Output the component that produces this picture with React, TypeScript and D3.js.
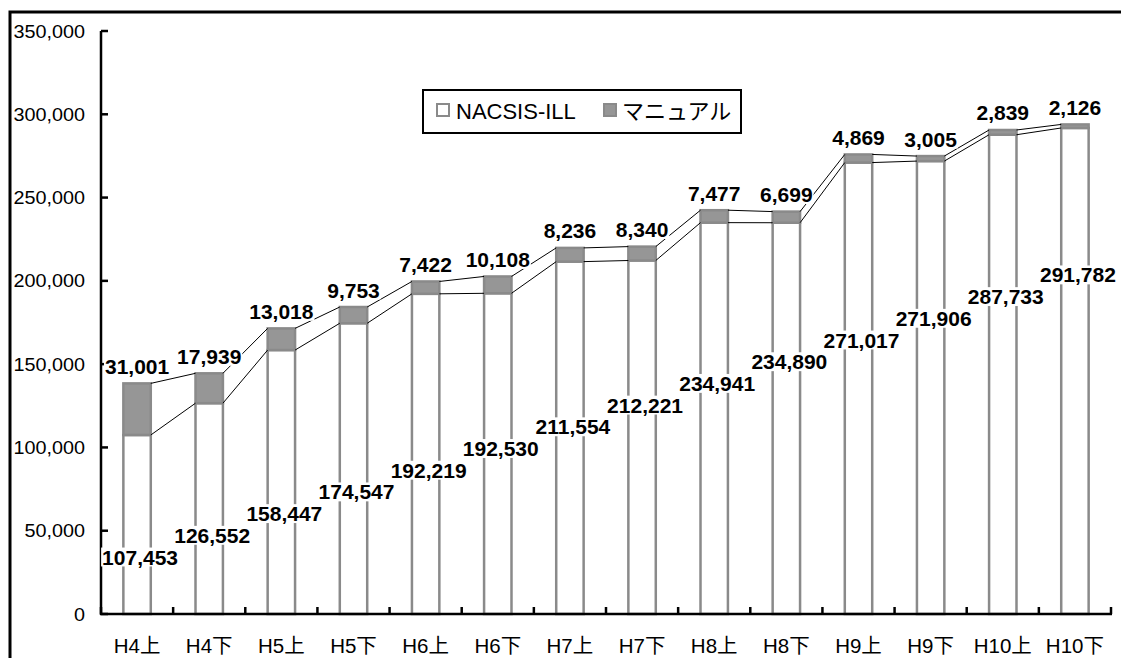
import React from "react";
import * as d3 from "d3";

const categories = ["H4上", "H4下", "H5上", "H5下", "H6上", "H6下", "H7上", "H7下", "H8上", "H8下", "H9上", "H9下", "H10上", "H10下"];
const nacsis = [107453, 126552, 158447, 174547, 192219, 192530, 211554, 212221, 234941, 234890, 271017, 271906, 287733, 291782];
const manual = [31001, 17939, 13018, 9753, 7422, 10108, 8236, 8340, 7477, 6699, 4869, 3005, 2839, 2126];
const yTicks = [0, 50000, 100000, 150000, 200000, 250000, 300000, 350000];
const seriesNames = ["NACSIS-ILL", "マニュアル"];

const W = 1121, H = 658;
const FONT = "'Liberation Sans', Arial, 'Noto Sans CJK JP', sans-serif";
const BAR_STROKE = "#8a8a8a";
const MANUAL_FILL = "#969696";

// layout constants for label placement (as in the original figure)
const nacsisLabelStartY = 557;
const nacsisLabelStep = 21.7;
const manualLabelGap = 17;

const fmt = d3.format(",");

function textWidth(s: string, fs: number) {
  let w = 0;
  for (const ch of s) w += ch === "," ? 0.278 : 0.556;
  return w * fs;
}

function Label({ x, cy, text }: { x: number; cy: number; text: string }) {
  const fs = 21;
  const w = textWidth(text, fs) + 2;
  const h = fs * 0.9;
  return (
    <g>
      <rect x={x - w / 2} y={cy - h / 2} width={w} height={h} fill="#fff" />
      <text x={x} y={cy + 7.5} textAnchor="middle" fontSize={fs} fontWeight="bold" fontFamily={FONT} fill="#000">
        {text}
      </text>
    </g>
  );
}

export default function App() {
  const x = d3.scaleBand<string>().domain(categories).range([101, 1111]).paddingInner(0.62).paddingOuter(0.31);
  const y = d3.scaleLinear().domain([0, 350000]).range([614, 31]);
  const bw = x.bandwidth();
  const step = x.step();
  const tops1 = nacsis;
  const tops2 = nacsis.map((v, i) => v + manual[i]);

  const seriesLines: JSX.Element[] = [];
  for (let i = 0; i < categories.length - 1; i++) {
    const x1 = (x(categories[i]) as number) + bw;
    const x2 = x(categories[i + 1]) as number;
    [tops1, tops2].forEach((t, k) => {
      seriesLines.push(
        <line key={`s${i}-${k}`} x1={x1} y1={y(t[i])} x2={x2} y2={y(t[i + 1])} stroke="#000" strokeWidth={1} />
      );
    });
  }

  const boundaries = d3.range(categories.length + 1).map((i) => 101 + i * step);

  return (
    <svg width={W} height={H} style={{ position: "absolute", left: 0, top: 0, background: "#fff" }}>
      <rect x={0} y={0} width={W} height={H} fill="#fff" />
      <rect x={10} y={12} width={1200} height={700} fill="none" stroke="#000" strokeWidth={3} />

      {/* bars */}
      {categories.map((c, i) => {
        const bx = x(c) as number;
        return (
          <g key={c}>
            <rect x={bx} y={y(nacsis[i])} width={bw} height={y(0) - y(nacsis[i])} fill="#fff" stroke={BAR_STROKE} strokeWidth={2.5} />
            <rect x={bx} y={y(tops2[i])} width={bw} height={y(nacsis[i]) - y(tops2[i])} fill={MANUAL_FILL} stroke={BAR_STROKE} strokeWidth={2.5} />
          </g>
        );
      })}

      {seriesLines}

      {/* axes */}
      <line x1={101} y1={31} x2={101} y2={615} stroke="#000" strokeWidth={2.5} />
      <line x1={100} y1={614} x2={1112} y2={614} stroke="#000" strokeWidth={2.5} />
      {yTicks.map((t) => (
        <g key={t}>
          <line x1={101} y1={y(t)} x2={108} y2={y(t)} stroke="#000" strokeWidth={2.5} />
          <g transform={`translate(85,${y(t) + 6.5}) scale(1.1,1)`}>
            <text x={0} y={0} textAnchor="end" fontSize={18} fontFamily={FONT} fill="#000">
              {fmt(t)}
            </text>
          </g>
        </g>
      ))}
      {boundaries.map((bx, i) => (
        <line key={`xt${i}`} x1={bx} y1={607} x2={bx} y2={614} stroke="#000" strokeWidth={2.5} />
      ))}
      {categories.map((c) => (
        <text key={`xl${c}`} x={(x(c) as number) + bw / 2} y={653} textAnchor="middle" fontSize={20.5} fontFamily={FONT} fill="#000">
          {c}
        </text>
      ))}

      {/* labels */}
      {categories.map((c, i) => (
        <Label key={`ln${c}`} x={(x(c) as number) + bw / 2 + 3} cy={nacsisLabelStartY - nacsisLabelStep * i} text={fmt(nacsis[i])} />
      ))}
      {categories.map((c, i) => (
        <Label key={`lm${c}`} x={(x(c) as number) + bw / 2} cy={y(tops2[i]) - manualLabelGap} text={fmt(manual[i])} />
      ))}

      {/* legend */}
      <rect x={423} y={90} width={318} height={43} fill="#fff" stroke="#000" strokeWidth={2} />
      <rect x={437} y={104} width={12} height={12} fill="#fff" stroke={BAR_STROKE} strokeWidth={2} />
      <text x={456} y={119} fontSize={22} fontFamily={FONT} fill="#000">{seriesNames[0]}</text>
      <rect x={604} y={104} width={12} height={12} fill={MANUAL_FILL} stroke={BAR_STROKE} strokeWidth={2} />
      <text x={622} y={119} fontSize={22} fontFamily={FONT} fill="#000">{seriesNames[1]}</text>
    </svg>
  );
}
